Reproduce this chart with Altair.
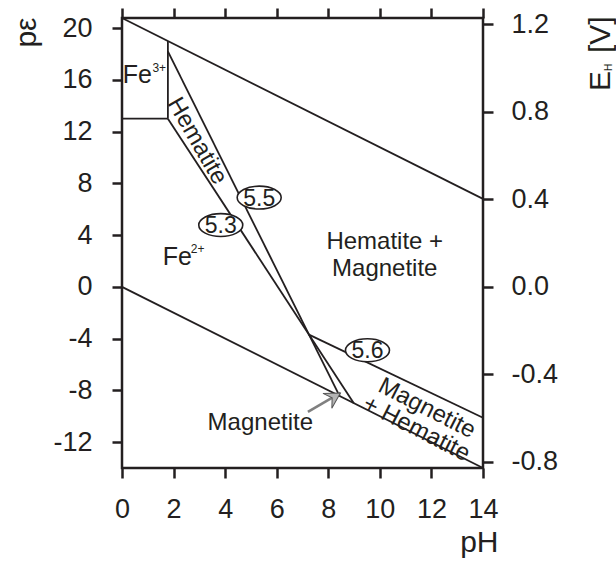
import altair as alt
import pandas as pd

INK = "#231f20"
FONT = "Liberation Sans"

# ---- axis ticks ----
ph_ticks = [0, 2, 4, 6, 8, 10, 12, 14]
pe_ticks = [-12, -8, -4, 0, 4, 8, 12, 16, 20]
eh_ticks = [-0.8, -0.4, 0.0, 0.4, 0.8, 1.2]

PH_DOMAIN = [0, 14]
PE_DOMAIN = [-14.0, 20.78]
K = 0.05916  # V per p-epsilon unit
EH_DOMAIN = [PE_DOMAIN[0] * K, PE_DOMAIN[1] * K]

# ---- boundary lines (id, pH, pe) ----
line_id = ["O2/H2O", "O2/H2O", "H2O/H2", "H2O/H2", "Fe3/Fe2", "Fe3/Fe2",
           "Fe3/Hem", "Fe3/Hem", "5.5", "5.5", "5.3", "5.3", "5.6", "5.6"]
line_ph = [0, 14, 0, 14, 0, 1.78, 1.78, 1.78, 1.78, 8.44, 1.78, 8.99, 7.25, 14]
line_pe = [20.78, 6.8, 0, -14, 13, 13, 13, 19.0, 18.2, -8.44, 13, -8.99, -3.69, -10.12]

# ---- equation labels in ellipses ----
ellipse_text = ["5.5", "5.3", "5.6"]
ellipse_ph = [5.32, 3.83, 9.52]
ellipse_pe = [6.90, 4.78, -4.90]

# ---- ion labels ----
ion_ph = [0.03, 1.58]
ion_pe = [15.74, 1.68]
charge_text = ["3+", "2+"]
charge_ph = [1.18, 2.67]
charge_pe = [16.64, 2.58]

# ---- region labels ----
hem_ph, hem_pe = [2.91], [11.27]
mix_text = ["Hematite +", "Magnetite"]
mix_ph = [10.19, 10.19]
mix_pe = [2.92, 0.83]
mix2_ph, mix2_pe = [11.82], [-9.4]
mag_ph, mag_pe = [3.32], [-11.09]

# ---- arrow (tail, tip) ----
arrow_ph = [7.21, 8.47]
arrow_pe = [-9.67, -8.2]

xs = alt.Scale(domain=PH_DOMAIN, nice=False, zero=False)


def ys():
    return alt.Scale(domain=PE_DOMAIN, nice=False, zero=False)


def X():
    return alt.X("pH:Q", scale=xs, axis=None)


def Y():
    return alt.Y("pe:Q", scale=ys(), axis=None)


lines_df = pd.DataFrame({"id": line_id, "pH": line_ph, "pe": line_pe})
lines = alt.Chart(lines_df).mark_line(color=INK, strokeWidth=1.8).encode(
    x=alt.X("pH:Q", scale=xs,
            axis=alt.Axis(orient="bottom", values=ph_ticks, title="pH", labelPadding=18,
                          labelFlush=False,
                          titleAnchor="end", titleAlign="right", titleBaseline="alphabetic",
                          titleX=376, titleY=83)),
    y=alt.Y("pe:Q", scale=ys(),
            axis=alt.Axis(orient="left", values=pe_ticks, title="pε", labelPadding=20,
                          labelFlush=False,
                          labelExpr="(datum.value < 0 ? '-' : '') + format(abs(datum.value), 'd')",
                          titleAngle=270, titleAlign="right", titleBaseline="middle",
                          titleX=-96, titleY=-1)),
    detail="id:N",
)

dummy_df = pd.DataFrame({"pH": PH_DOMAIN, "eh": EH_DOMAIN})
dummy = alt.Chart(dummy_df).mark_point(opacity=0).encode(
    x=alt.X("pH:Q", scale=xs,
            axis=alt.Axis(orient="top", values=ph_ticks, labels=False, title=None)),
    y=alt.Y("eh:Q", scale=alt.Scale(domain=EH_DOMAIN, nice=False, zero=False),
            axis=alt.Axis(orient="right", values=eh_ticks, title=None, labelPadding=18,
                          labelFlush=False,
                          labelExpr="(datum.value < 0 ? '-' : '') + format(abs(datum.value), '.1f')")),
)

ell_df = pd.DataFrame({"t": ellipse_text, "pH": ellipse_ph, "pe": ellipse_pe})
ELLIPSE = "M-1,0A1,0.52,0,1,1,1,0A1,0.52,0,1,1,-1,0Z"
ellipses = alt.Chart(ell_df).mark_point(
    shape=ELLIPSE, size=44 * 44, filled=True, fill="white", stroke=INK,
    strokeWidth=1.6, opacity=1
).encode(x=X(), y=Y())
ell_text = alt.Chart(ell_df).mark_text(
    font=FONT, fontSize=23, color=INK, align="center", baseline="middle", dy=1
).encode(x=X(), y=Y(), text="t:N")

ion_df = pd.DataFrame({"pH": ion_ph, "pe": ion_pe, "t": ["Fe", "Fe"]})
ions = alt.Chart(ion_df).mark_text(
    font=FONT, fontSize=25, color=INK, align="left", baseline="alphabetic"
).encode(x=X(), y=Y(), text="t:N")
ch_df = pd.DataFrame({"pH": charge_ph, "pe": charge_pe, "t": charge_text})
charges = alt.Chart(ch_df).mark_text(
    font=FONT, fontSize=12, color=INK, align="left", baseline="alphabetic"
).encode(x=X(), y=Y(), text="t:N")

hem = alt.Chart(pd.DataFrame({"pH": hem_ph, "pe": hem_pe})).mark_text(
    text="Hematite", font=FONT, fontSize=24, color=INK, angle=60,
    align="center", baseline="middle"
).encode(x=X(), y=Y())
mix = alt.Chart(pd.DataFrame({"t": mix_text, "pH": mix_ph, "pe": mix_pe})).mark_text(
    font=FONT, fontSize=24, color=INK, align="center", baseline="alphabetic"
).encode(x=X(), y=Y(), text="t:N")
mix2 = alt.Chart(pd.DataFrame({"pH": mix2_ph, "pe": mix2_pe})).mark_text(
    text="Magnetite\n+ Hematite", lineBreak="\n", lineHeight=23, font=FONT,
    fontSize=24, color=INK, angle=27, align="center", baseline="middle"
).encode(x=X(), y=Y())
mag = alt.Chart(pd.DataFrame({"pH": mag_ph, "pe": mag_pe})).mark_text(
    text="Magnetite", font=FONT, fontSize=24, color=INK,
    align="left", baseline="alphabetic"
).encode(x=X(), y=Y())

arrow_df = pd.DataFrame({"pH": arrow_ph, "pe": arrow_pe, "o": [0, 1]})
shaft = alt.Chart(arrow_df).mark_line(color="#808080", strokeWidth=2.6).encode(
    x=X(), y=Y(), order="o:Q")
ARROW = "M0,0L-2.2,-1.25L-1.4,0L-2.2,1.25Z"
head = alt.Chart(arrow_df.iloc[[1]]).mark_point(
    shape=ARROW, size=190, filled=True, fill="#b4b4b4", stroke="#555555",
    strokeWidth=1, angle=329, opacity=1
).encode(x=X(), y=Y())

one = pd.DataFrame({"a": [0]})
eh_big = alt.Chart(one).mark_text(
    text="E", font=FONT, fontSize=30, color=INK, angle=270,
    align="left", baseline="alphabetic"
).encode(x=alt.value(488), y=alt.value(73))
eh_sub = alt.Chart(one).mark_text(
    text="H", font=FONT, fontSize=10, color=INK, angle=270,
    align="left", baseline="alphabetic"
).encode(x=alt.value(490), y=alt.value(53))
eh_unit = alt.Chart(one).mark_text(
    text="[V]", font=FONT, fontSize=30, color=INK, angle=270,
    align="left", baseline="alphabetic"
).encode(x=alt.value(488), y=alt.value(35))

chart = alt.layer(
    lines, dummy, shaft, head, ellipses, ell_text, ions, charges,
    hem, mix, mix2, mag, eh_big, eh_sub, eh_unit
).resolve_scale(y="independent").resolve_axis(
    x="independent", y="independent"
).properties(
    width=361, height=450,
    padding={"left": 122, "top": 18, "right": 133, "bottom": 98},
    autosize=alt.AutoSizeParams(type="none"),
    background="white",
).configure_axis(
    labelFont=FONT, titleFont=FONT, labelFontSize=27, titleFontSize=30,
    labelColor=INK, titleColor=INK, tickColor=INK, tickWidth=2.5, tickSize=10,
    domain=False, grid=False, titleFontWeight="normal",
).configure_view(stroke=INK, strokeWidth=2.5)

chart.save("out.html", embed_options={"renderer": "svg", "actions": False})
